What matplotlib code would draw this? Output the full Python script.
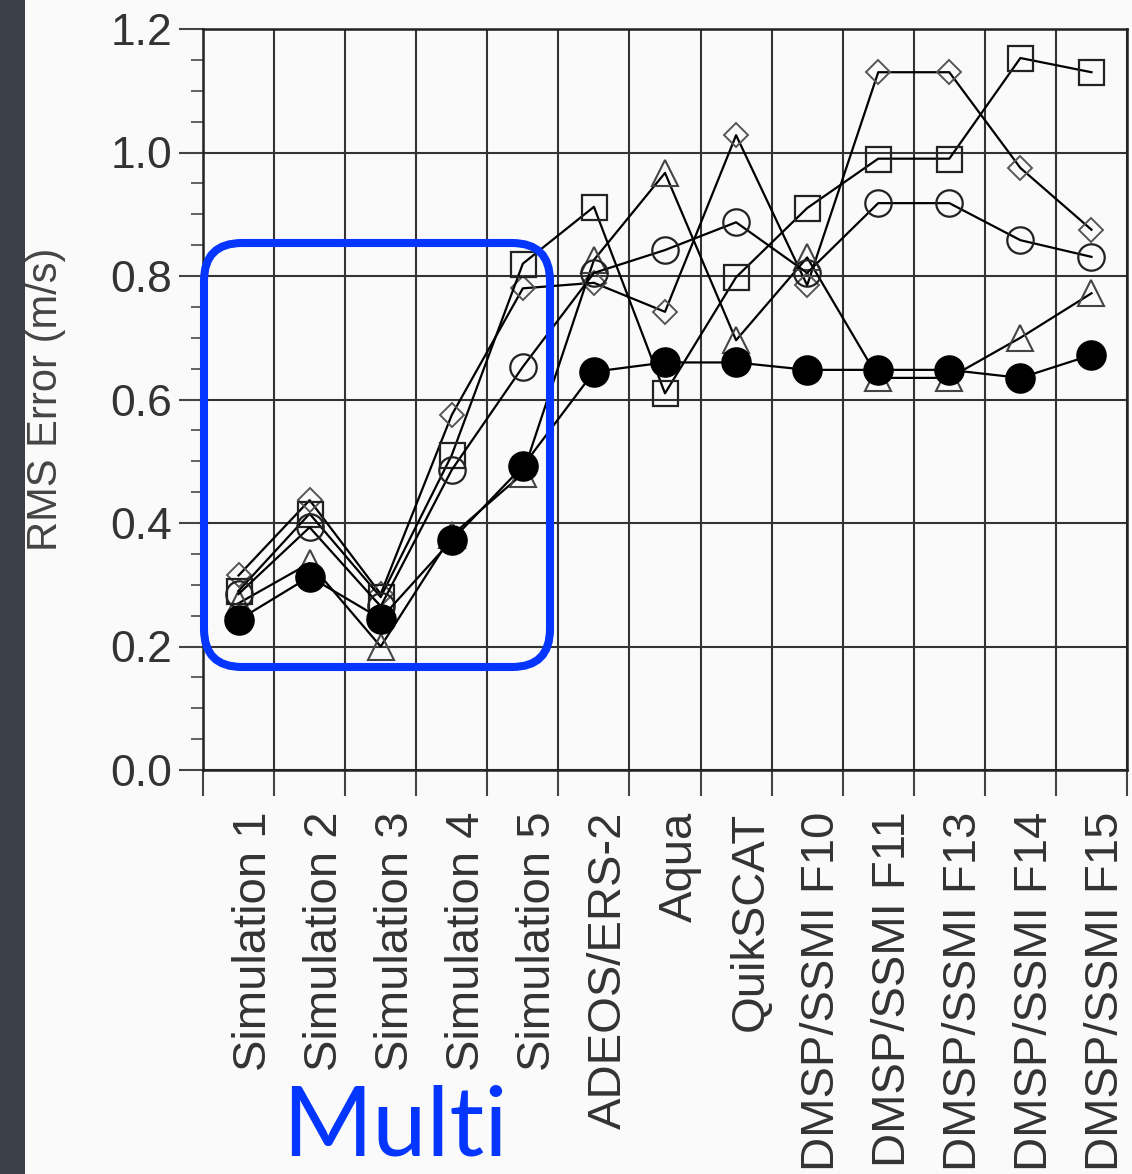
import matplotlib
matplotlib.use("Agg")
import matplotlib.pyplot as plt
from matplotlib.patches import Rectangle, FancyBboxPatch
from matplotlib.transforms import ScaledTranslation, IdentityTransform

categories = ['Simulation 1', 'Simulation 2', 'Simulation 3', 'Simulation 4', 'Simulation 5',
              'ADEOS/ERS-2', 'Aqua', 'QuikSCAT', 'DMSP/SSMI F10', 'DMSP/SSMI F11',
              'DMSP/SSMI F13', 'DMSP/SSMI F14', 'DMSP/SSMI F15']
filled_circle = [0.243, 0.313, 0.245, 0.372, 0.492, 0.645, 0.660, 0.660, 0.648, 0.648, 0.648, 0.635, 0.672]
open_circle = [0.285, 0.393, 0.265, 0.486, 0.653, 0.805, 0.842, 0.887, 0.805, 0.918, 0.918, 0.858, 0.831]
square = [0.290, 0.415, 0.280, 0.510, 0.820, 0.912, 0.610, 0.798, 0.910, 0.990, 0.990, 1.153, 1.130]
triangle = [0.270, 0.335, 0.200, 0.380, 0.480, 0.826, 0.967, 0.696, 0.830, 0.635, 0.635, 0.700, 0.772]
diamond = [0.315, 0.437, 0.285, 0.575, 0.780, 0.789, 0.742, 1.028, 0.785, 1.130, 1.130, 0.975, 0.875]
yticks = [0.0, 0.2, 0.4, 0.6, 0.8, 1.0, 1.2]
ylabel = 'RMS Error (m/s)'
note = 'Multi'

plt.rcParams['font.family'] = ['Liberation Sans', 'DejaVu Sans']
W, H = 1132, 1174
fig = plt.figure(figsize=(W / 100, H / 100), dpi=100)
fig.patch.set_facecolor('#fafafa')
ax = fig.add_axes([203 / W, 1 - 770 / H, 924 / W, 741 / H])
ax.set_facecolor('#fafafa')

x = list(range(1, len(categories) + 1))
lw = 1.6
ax.plot(x, diamond, color='black', lw=lw, marker='D', ms=12.5, mfc='none', mec='#555555', mew=1.4, zorder=3)
ax.plot(x, triangle, color='black', lw=lw, marker='^', ms=19, mfc='none', mec='#444444', mew=1.5, zorder=3)
ax.plot(x, square, color='black', lw=lw, marker='s', ms=18, mfc='none', mec='#222222', mew=1.6, zorder=3)
ax.plot(x, open_circle, color='black', lw=lw, marker='o', ms=19, mfc='none', mec='#222222', mew=1.6, zorder=3)
ax.plot(x, filled_circle, color='black', lw=lw, marker='o', ms=21, mfc='black', mec='black', zorder=4)

ax.set_xlim(0.5, len(categories) + 0.5)
ax.set_ylim(0, 1.2)
ax.set_xticks([i + 0.5 for i in range(0, len(categories) + 1)])
ax.set_xticklabels([])
ax.set_xticks(x, minor=True)
ax.set_xticklabels(categories, minor=True, rotation=90, fontsize=34, color='#333333')
ax.tick_params(axis='x', which='major', direction='out', length=19, width=1.5, color='#444444')
ax.tick_params(axis='x', which='minor', length=0, pad=30)
ax.set_yticks(yticks)
ax.set_yticklabels([f'{v:.1f}' for v in yticks], fontsize=32, color='#333333')
ax.set_yticks([v * 0.05 for v in range(25)], minor=True)
ax.tick_params(axis='y', which='major', direction='out', length=17, width=1.5, color='#444444', pad=5)
ax.tick_params(axis='y', which='minor', direction='out', length=9, width=1.3, color='#555555')
ax.grid(True, which='major', color='#333333', lw=1.5)
ax.set_axisbelow(True)
for s in ax.spines.values():
    s.set_color('#222222')
    s.set_linewidth(1.8)
ax.set_ylabel(ylabel, fontsize=30, color='#444444', labelpad=32)

off = ScaledTranslation(0.15, 0, fig.dpi_scale_trans)
for lab in ax.get_xticklabels(minor=True):
    lab.set_transform(lab.get_transform() + off)

# left dark strip
fig.patches.append(Rectangle((0, 0), 25 / W, 1, transform=fig.transFigure, facecolor='#3b3f48', edgecolor='none', zorder=0))

# blue rounded box (pixel coords)
x0, y0 = 204, H - 667
x1, y1 = 550, H - 243
box = FancyBboxPatch((x0, y0), x1 - x0, y1 - y0, boxstyle='round,pad=0,rounding_size=38',
                     transform=IdentityTransform(), facecolor='none', edgecolor='#0536ff', lw=5.8, zorder=10)
fig.patches.append(box)

fig.text(395 / W, 1 / H, note, color='#0536ff', fontsize=70, ha='center', va='bottom',
         family=['Lato', 'DejaVu Sans'])

fig.savefig('out.png', dpi=100, facecolor=fig.get_facecolor())
